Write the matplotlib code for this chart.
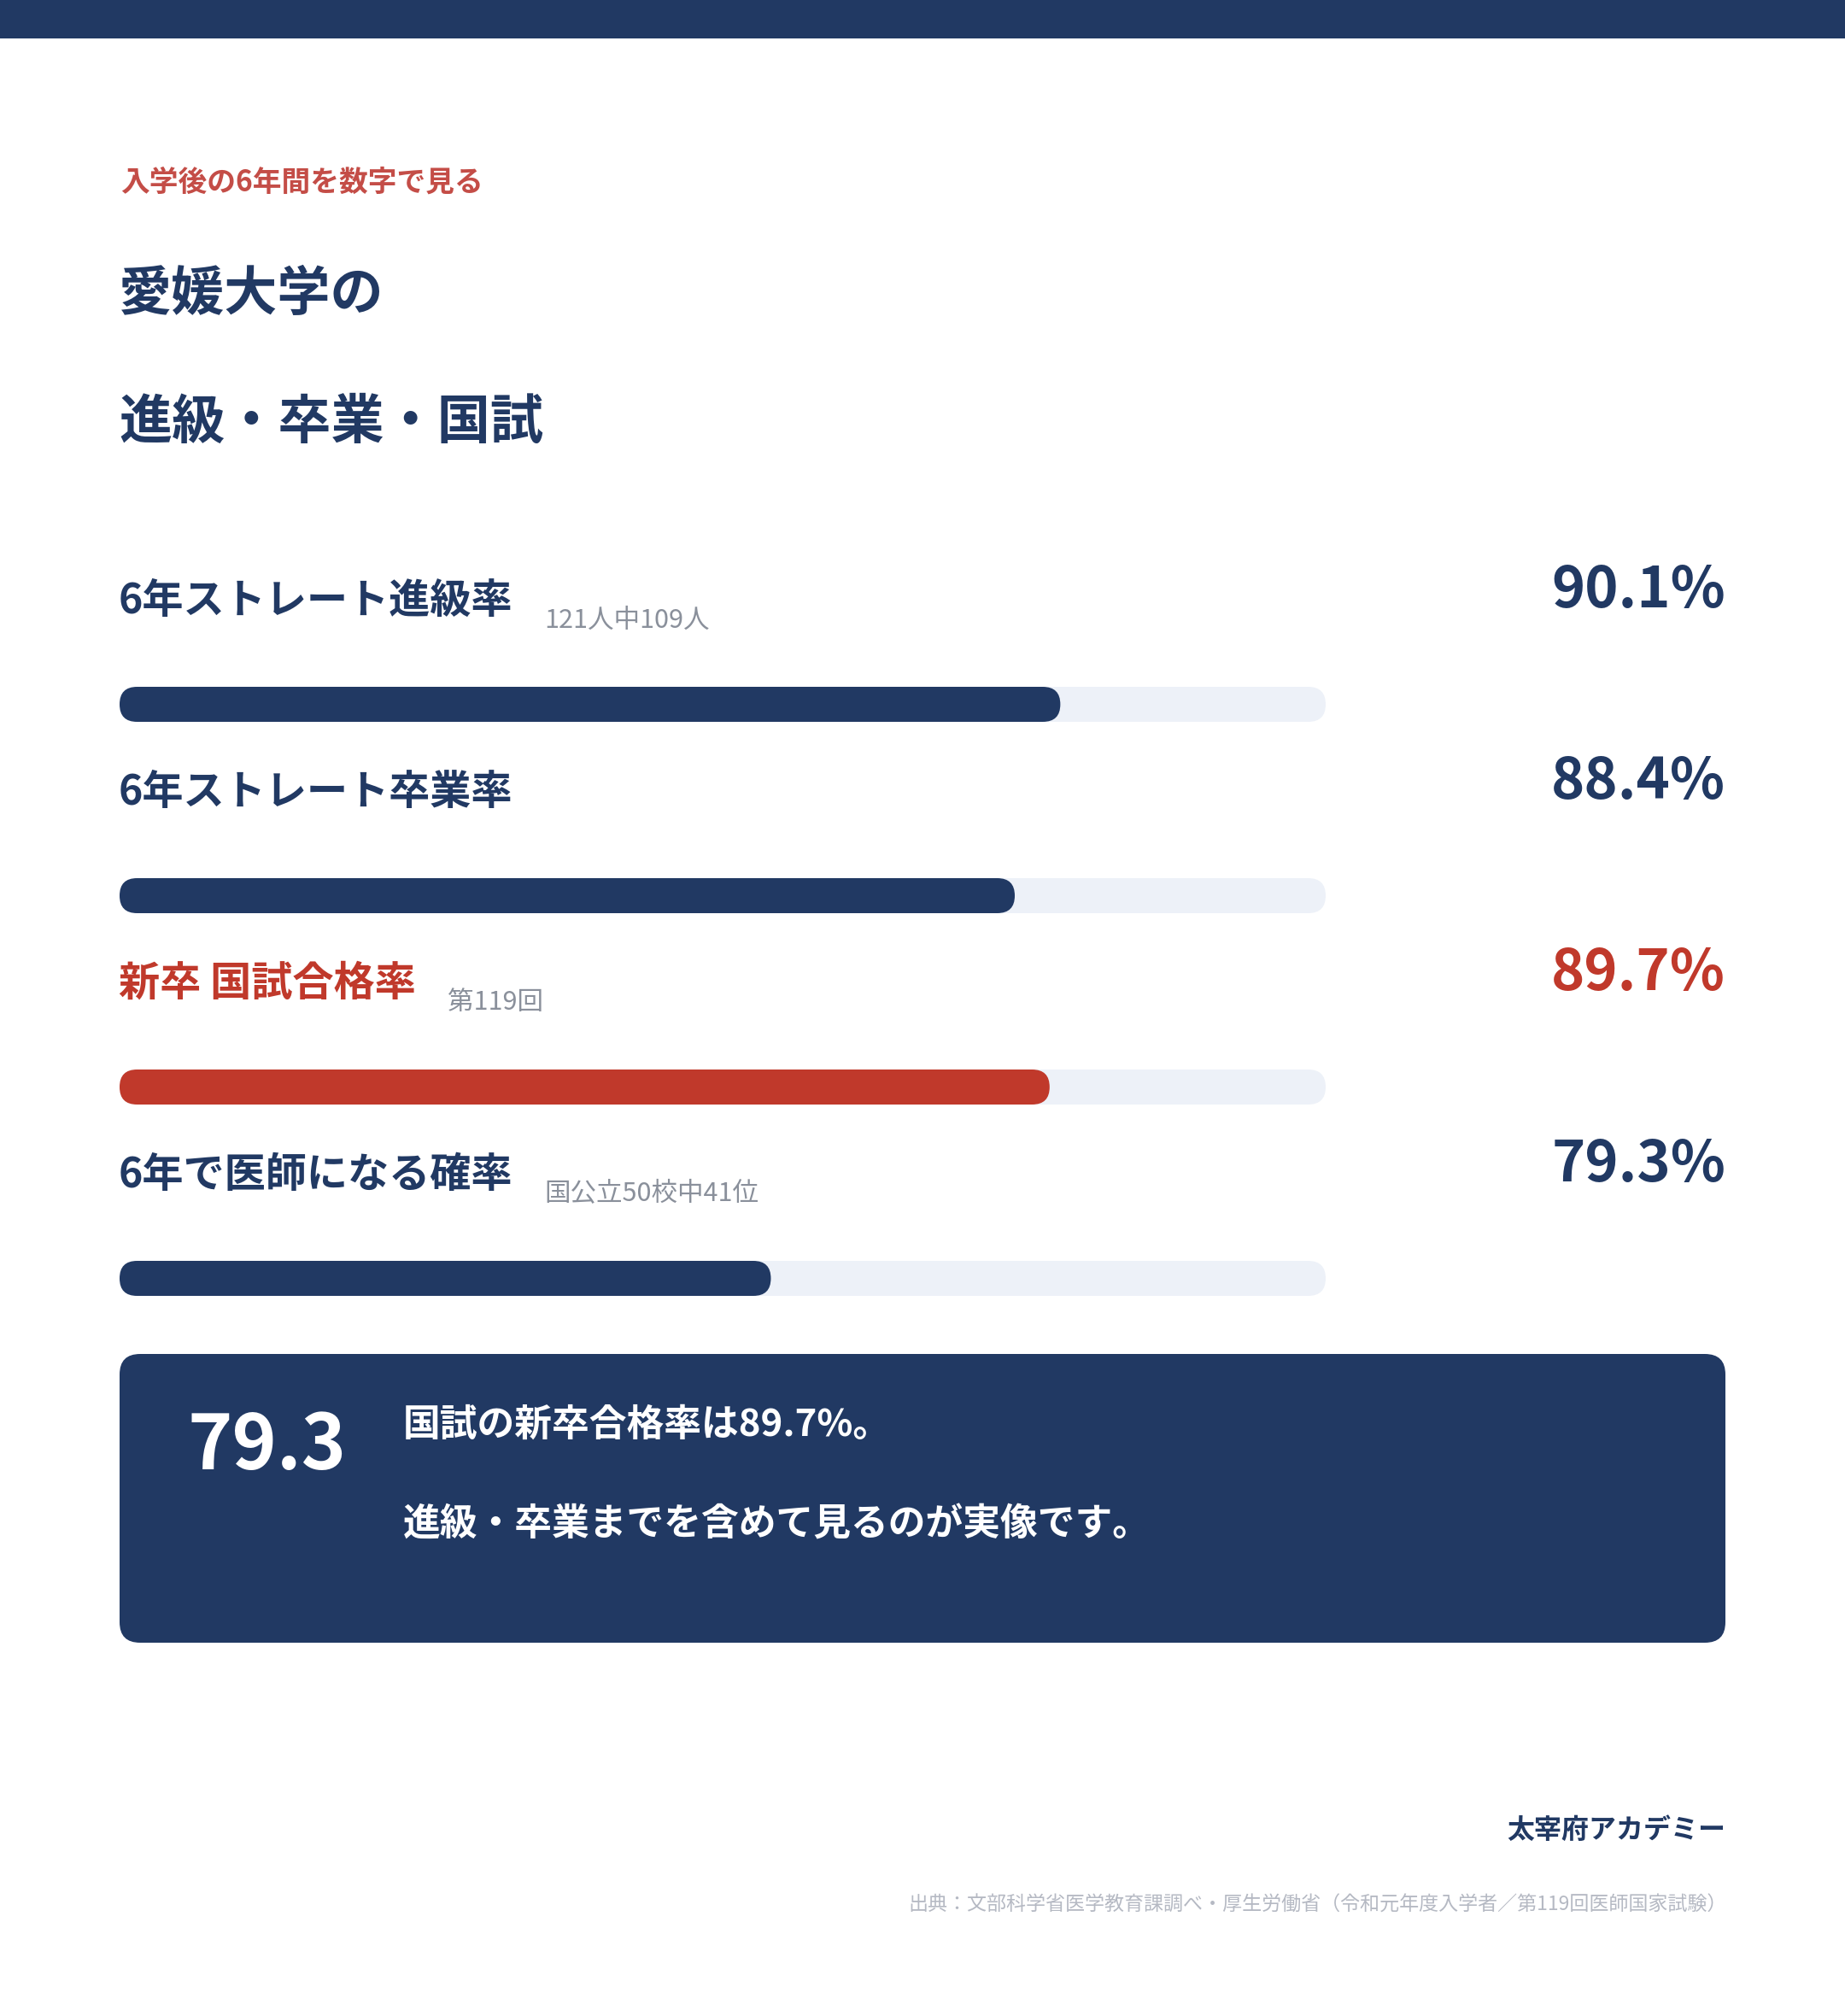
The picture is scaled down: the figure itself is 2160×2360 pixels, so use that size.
import matplotlib
matplotlib.use("Agg")
import matplotlib.pyplot as plt
from matplotlib.patches import FancyBboxPatch, Rectangle
from matplotlib.transforms import IdentityTransform

plt.rcParams['font.family'] = ['Noto Sans CJK JP', 'DejaVu Sans']

# ---- data ----
eyebrow = "入学後の6年間を数字で見る"
title_lines = ["愛媛大学の", "進級・卒業・国試"]
labels = ["6年ストレート進級率", "6年ストレート卒業率", "新卒 国試合格率", "6年で医師になる確率"]
notes = ["121人中109人", "", "第119回", "国公立50校中41位"]
values = [90.1, 88.4, 89.7, 79.3]
highlight = [False, False, True, False]
scale_min, scale_max = 55, 100
box_number = "79.3"
box_lines = ["国試の新卒合格率は89.7%。", "進級・卒業までを含めて見るのが実像です。"]
brand = "太宰府アカデミー"
source = "出典：文部科学省医学教育課調べ・厚生労働省（令和元年度入学者／第119回医師国家試験）"

# ---- style ----
W, H = 2160, 2360
NAVY = '#213963'
RED = '#C0392B'
EYEBROW_RED = '#C44D47'
TRACK = '#EDF1F8'
GRAY = '#8A909B'
SRC_GRAY = '#B5B9C3'

fig = plt.figure(figsize=(W / 100, H / 100), dpi=100)
fig.patch.set_facecolor('white')

def fx(x):
    return x / W

def fy(y):
    return 1 - y / H

# top band
fig.patches.append(Rectangle((0, fy(45)), 1, 45 / H, transform=fig.transFigure,
                             facecolor=NAVY, edgecolor='none'))

# header text
fig.text(fx(141), fy(213), eyebrow, color=EYEBROW_RED, fontsize=24.3, fontweight='bold', va='center')
fig.text(fx(139), fy(345), title_lines[0], color=NAVY, fontsize=44.7, fontweight='bold', va='center')
fig.text(fx(139), fy(494), title_lines[1], color=NAVY, fontsize=44.7, fontweight='bold', va='center')

# rows
row0_label_y = 703
row_step = 224
bar_y0 = 824.5
bar_h = 41
bar_x0, bar_x1 = 140, 1552

fig.canvas.draw()
renderer = fig.canvas.get_renderer()

for i, (lab, note, val, hl) in enumerate(zip(labels, notes, values, highlight)):
    c = RED if hl else NAVY
    ly = row0_label_y + i * row_step
    t = fig.text(fx(139), fy(ly), lab, color=c, fontsize=34.7, fontweight='bold', va='center')
    if note:
        bb = t.get_window_extent(renderer=renderer)
        fig.text((bb.x1 + 37) / W, fy(ly + 23), note, color=GRAY, fontsize=22, va='center')
    fig.text(fx(2020), fy(691 + i * row_step), f"{val}%", color=c, fontsize=48,
             fontweight='bold', va='center', ha='right')

# bar axes
top = bar_y0 - row_step / 2
bottom = bar_y0 + 3 * row_step + row_step / 2
ax = fig.add_axes([fx(bar_x0), fy(bottom), (bar_x1 - bar_x0) / W, (bottom - top) / H])
ax.set_xlim(scale_min, scale_max)
ax.set_ylim(len(values) - 0.5, -0.5)
ax.axis('off')
ax.patch.set_alpha(0)

xupp = (scale_max - scale_min) / (bar_x1 - bar_x0)
yupp = len(values) / (bottom - top)
bh = bar_h * yupp
r = (bar_h / 2) * xupp
m = yupp / xupp
for i, (val, hl) in enumerate(zip(values, highlight)):
    c = RED if hl else NAVY
    ax.add_patch(FancyBboxPatch((scale_min, i - bh / 2), scale_max - scale_min, bh,
                                boxstyle=f"round,pad=0,rounding_size={r}",
                                mutation_aspect=m, facecolor=TRACK, edgecolor='none'))
    ax.add_patch(FancyBboxPatch((scale_min, i - bh / 2), val - scale_min, bh,
                                boxstyle=f"round,pad=0,rounding_size={r}",
                                mutation_aspect=m, facecolor=c, edgecolor='none'))

# summary box
bx0, bx1, by0, by1 = 140, 2020, 1585, 1923
fig.patches.append(FancyBboxPatch((bx0, H - by1), bx1 - bx0, by1 - by0,
                                  boxstyle="round,pad=0,rounding_size=24",
                                  transform=IdentityTransform(),
                                  facecolor=NAVY, edgecolor='none'))
fig.text(fx(219), fy(1694), box_number, color='white', fontsize=64, fontweight='bold', va='center')
fig.text(fx(472), fy(1668), box_lines[0], color='white', fontsize=31.5, fontweight='bold', va='center')
fig.text(fx(472), fy(1784), box_lines[1], color='white', fontsize=31.5, fontweight='bold', va='center')

# footer
fig.text(fx(2020), fy(2143), brand, color=NAVY, fontsize=23, fontweight='bold', va='center', ha='right')
fig.text(fx(2022), fy(2230), source, color=SRC_GRAY, fontsize=16.6, va='center', ha='right')

fig.savefig("out.png", dpi=100, facecolor='white')
